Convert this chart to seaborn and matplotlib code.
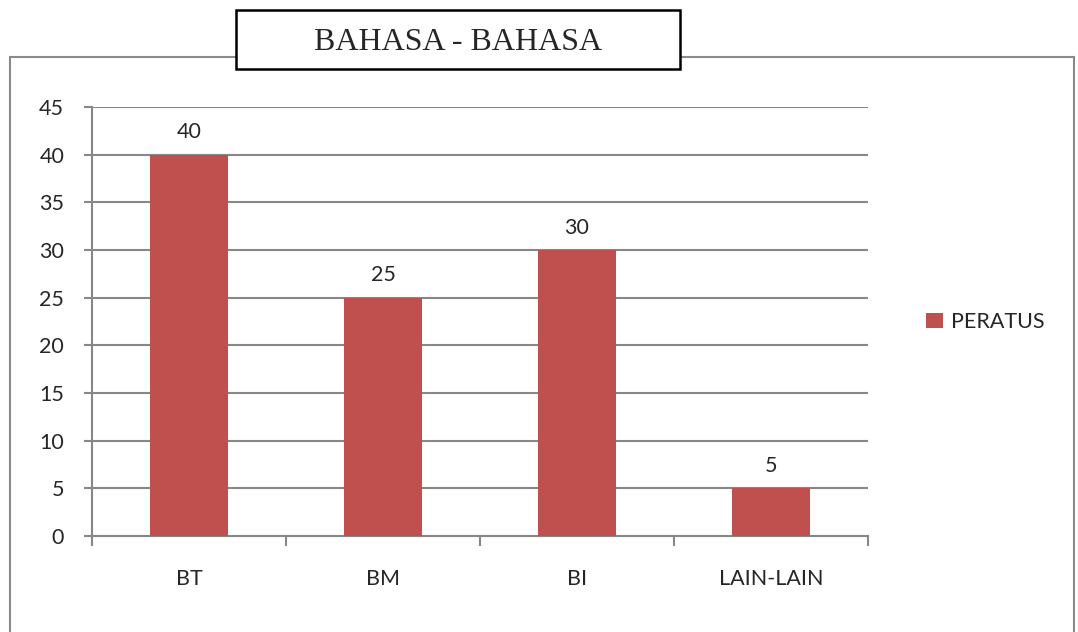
import matplotlib
matplotlib.use("Agg")
import matplotlib.pyplot as plt
import seaborn as sns
import pandas as pd
from matplotlib.patches import Rectangle, Patch

categories = ["BT", "BM", "BI", "LAIN-LAIN"]
values = [40, 25, 30, 5]
series_name = "PERATUS"
title = "BAHASA - BAHASA"
yticks = [0, 5, 10, 15, 20, 25, 30, 35, 40, 45]

BAR = "#C0504D"
GRID = "#878787"
W, H = 1078, 632
FS = 15.5

sns.set_style("white")
plt.rcParams["font.family"] = ["Lato", "DejaVu Sans"]

fig = plt.figure(figsize=(W / 100, H / 100), dpi=100)

def fx(px):
    return px / W

def fy(py):
    return 1 - py / H

# outer chart border
fig.patches.append(Rectangle((fx(10), fy(700)), fx(1074) - fx(10), fy(57) - fy(700),
                             transform=fig.transFigure, fill=False, edgecolor="#8a8a8a",
                             linewidth=1.5, zorder=0))

ax = fig.add_axes([fx(92), fy(536), fx(868) - fx(92), fy(107) - fy(536)])
df = pd.DataFrame({"cat": categories, "val": values})
sns.barplot(data=df, x="cat", y="val", color=BAR, saturation=1, width=0.4,
            ax=ax, zorder=3, label=series_name, linewidth=0, edgecolor="none")
ax.set_xlim(-0.5, len(categories) - 0.5)
ax.set_ylim(0, 45)
ax.set_yticks(yticks)
ax.set_xlabel("")
ax.set_ylabel("")
for s in ["top", "right"]:
    ax.spines[s].set_visible(False)
for s in ["left", "bottom"]:
    ax.spines[s].set_color(GRID)
    ax.spines[s].set_linewidth(1.5)
for y in yticks[1:]:
    ax.axhline(y, color=GRID, linewidth=1.5, zorder=1)

ax.tick_params(axis="y", left=True, length=6, width=1.5, color=GRID, labelsize=FS, pad=14)
ax.tick_params(axis="x", which="major", bottom=True, length=0, labelsize=FS, pad=24)
ax.set_xticks([i - 0.5 for i in range(len(categories) + 1)], minor=True)
ax.tick_params(axis="x", which="minor", bottom=True, length=7, width=1.5, color=GRID)

for i, v in enumerate(values):
    ax.annotate(str(v), (i, v), xytext=(0, 9), textcoords="offset points",
                ha="center", va="bottom", fontsize=FS)

if ax.get_legend() is not None:
    ax.get_legend().remove()
fig.legend(handles=[Patch(facecolor=BAR, edgecolor="none", label=series_name)],
           loc="center left", bbox_to_anchor=(fx(907), fy(322)), frameon=False,
           fontsize=FS, handlelength=0.75, handleheight=0.75, handletextpad=0.4)

# title box
fig.patches.append(Rectangle((fx(236), fy(69)), fx(680) - fx(236), fy(10) - fy(69),
                             transform=fig.transFigure, facecolor="white",
                             edgecolor="black", linewidth=1.8, zorder=5))
fig.text(fx(458), fy(42), title, ha="center", va="center",
         family="Liberation Serif", fontsize=23, zorder=6)

fig.savefig("out.png", dpi=100)
